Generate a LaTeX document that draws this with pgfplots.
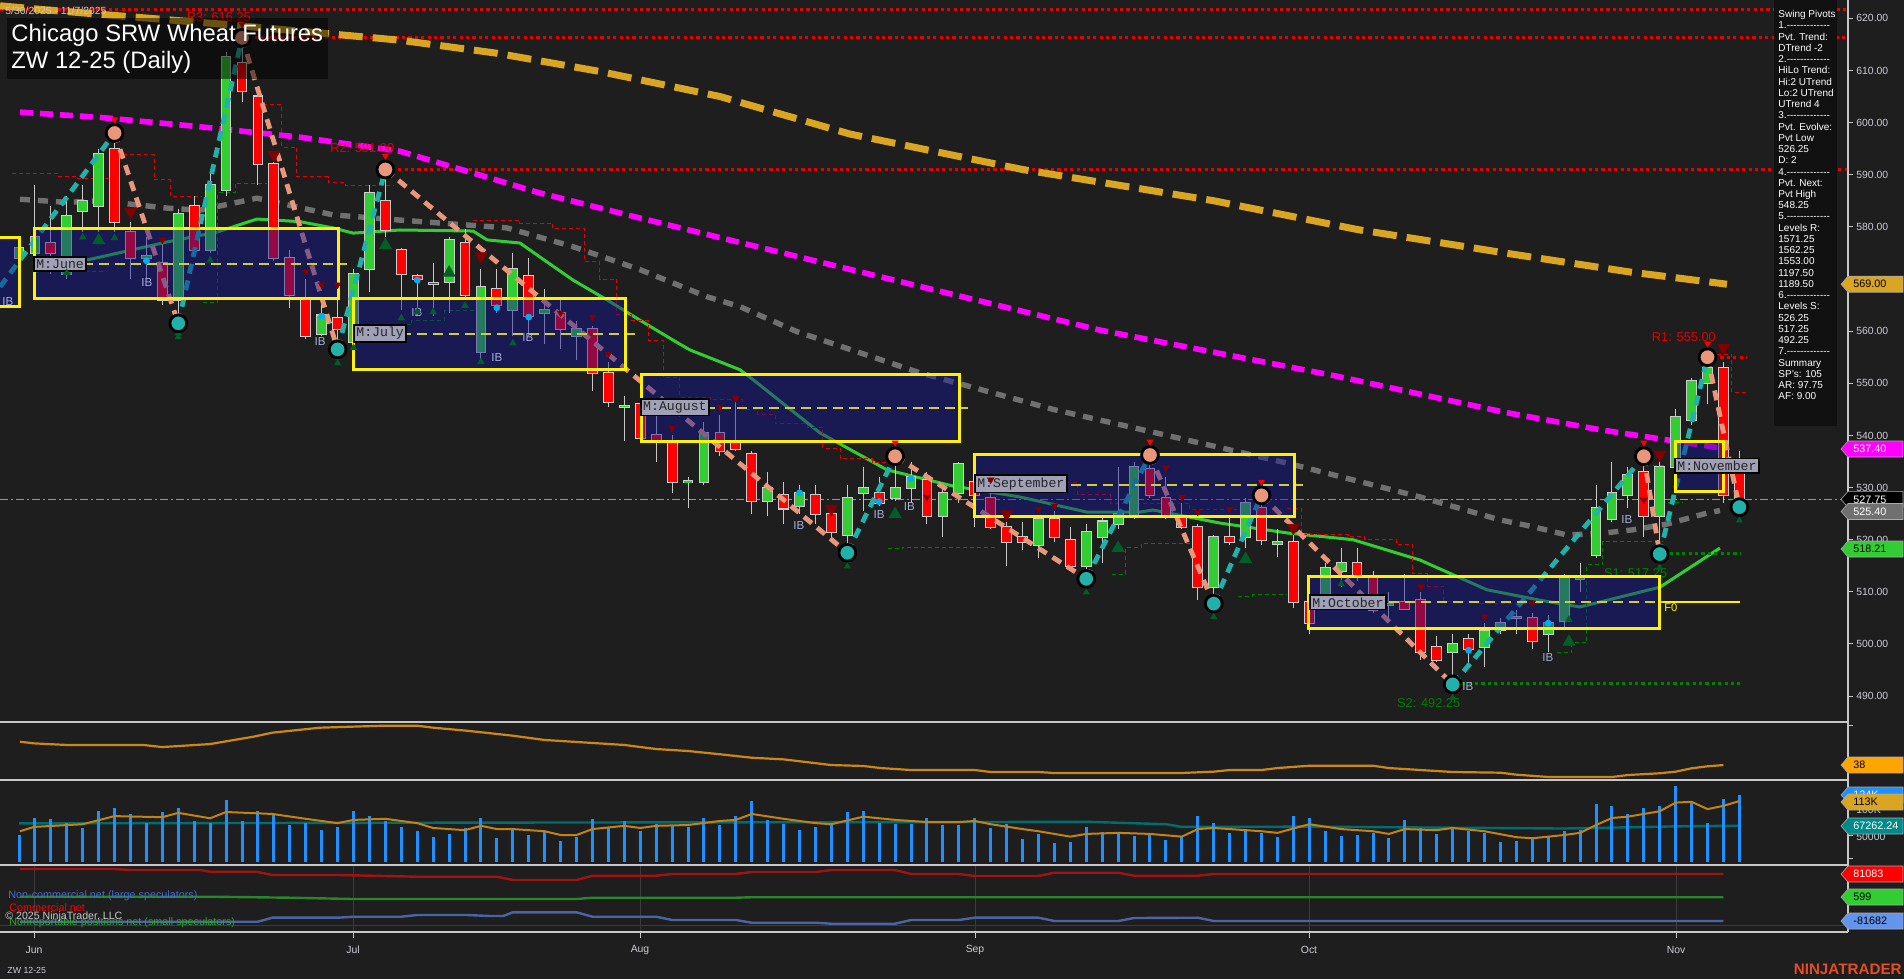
\documentclass[border=0pt]{standalone}
\usepackage{fontspec}
\setmainfont{Liberation Sans}
\newfontfamily\monofont{Liberation Mono}
\usepackage{pgfplots}
\usepackage{pgfplotstable}
\pgfplotsset{compat=1.18}

\definecolor{bg}{RGB}{30,30,30}
\definecolor{upc}{RGB}{50,205,50}
\definecolor{dnc}{RGB}{255,0,0}
\definecolor{wick}{RGB}{200,200,200}
\definecolor{outl}{RGB}{205,205,205}
\definecolor{ma200}{RGB}{218,165,32}
\definecolor{ma100}{RGB}{255,0,255}
\definecolor{ma50}{RGB}{112,112,112}
\definecolor{ma20}{RGB}{50,205,50}
\definecolor{swdn}{RGB}{233,150,122}
\definecolor{swup}{RGB}{32,178,170}
\definecolor{boxfill}{RGB}{20,20,150}
\definecolor{midl}{RGB}{205,205,60}
\definecolor{lvlred}{RGB}{230,0,0}
\definecolor{lvlgrn}{RGB}{0,128,0}
\definecolor{ibc}{RGB}{165,175,220}
\definecolor{vol}{RGB}{30,144,255}
\definecolor{volavg}{RGB}{195,130,20}
\definecolor{oi}{RGB}{0,110,110}
\definecolor{adx}{RGB}{205,135,20}
\definecolor{cotred}{RGB}{165,18,18}
\definecolor{cotgrn}{RGB}{40,135,40}
\definecolor{cotblue}{RGB}{75,100,165}
\definecolor{dkgrn}{RGB}{0,95,40}
\definecolor{dkred}{RGB}{130,0,0}
\definecolor{sepc}{RGB}{200,200,200}
\definecolor{gridc}{RGB}{60,60,60}
\definecolor{axtext}{RGB}{205,205,215}
\definecolor{lblfill}{RGB}{160,160,182}
\definecolor{tagbd}{RGB}{170,170,170}
\definecolor{lastc}{RGB}{150,150,150}
\definecolor{ncblue}{RGB}{70,105,215}
\definecolor{nrgreen}{RGB}{45,165,45}
\definecolor{cfblue}{RGB}{100,149,237}
\definecolor{oitag}{RGB}{0,139,139}
\definecolor{adxtag}{RGB}{255,165,0}
\definecolor{ntred}{RGB}{228,78,36}
\definecolor{pivbg}{RGB}{17,17,17}
\definecolor{datec}{RGB}{200,200,200}

\newcommand{\dsh}{-{}-{}-{}-{}-{}-{}-{}-{}-{}-{}-{}-{}-}
\newcommand{\ptag}[4]{%
  \filldraw[fill=#2, draw=tagbd, line width=0.3pt] (1841,#1) -- (1848,#1-8) -- (1903,#1-8) -- (1903,#1+8) -- (1848,#1+8) -- cycle;
  \node[anchor=west, text=#3, font=\fontsize{5.4}{6}\selectfont, inner sep=0pt] at (1853,#1) {#4};}

% daily bars: index, open, high, low, close, volume (thousands)
\pgfplotstableread{
i o h l c v
1 574 578 567 576 50
2 575 588 571 578 81.5
3 577 584 571 575 79.6
4 571 586 570 582 72
5 583 588 579 585 63
6 584 595 579 594 94
7 595 598 579 581 100
8 579 581 570 574 89
9 574 578 570 574.5 72
10 573 577 565 566 93
11 566 583.5 561.5 582.5 100
12 584 586 575 575.5 76
13 575.5 591 575 588 72
14 587 613.5 586 612.5 115
15 611.5 616.25 604 606 76
16 605 605.5 588 592 94
17 592 592.5 573.5 574 89
18 574 575.5 564.5 567 68.5
19 566 570 558.5 559 72
20 559.5 565 559 563 59
21 562.5 566 556.5 560.5 65
22 558 572 557 571 94
23 572 588 567.5 586.5 85
24 585 591 578 579.5 76
25 575.5 576 564 571 65
26 570.5 571 563 570 57
27 569.3 573 563 569 46
28 569.5 578 563.5 577.5 52
29 577 579.5 566.5 567 63
30 556 572 554 568.5 81.5
31 568 572 563.5 565 45
32 564 575 559 572 62
33 570.5 574 559 563 50
34 563.5 568 557.5 564 57
35 563.5 566 556.5 560.5 39
36 559 562 554.5 560.5 47
37 560.5 561 548.5 552 80
38 552 554 545.5 546.5 64
39 545.5 547.5 539 545.7 76
40 546 547 538.5 539.5 57
41 540 545.5 535 539 70
42 539 540 529 531 67
43 531 532 526 531.2 65
44 531 542.5 530.5 540.5 81.5
45 540.5 544 536 537 68.5
46 539 546.5 537 537.5 85
47 536.5 537 525 527.5 113
48 527.5 533 524.5 530 78
49 528.5 531 523 526 70
50 526.5 530.5 525 529 59
51 528.5 530.5 523 525 65
52 525 526 520 521.5 70
53 521 530.5 517.5 528 92.6
54 529 534 525.5 530 94
55 529 532 526.5 527 73
56 528 536 527.5 530 70
57 530 535 527 532 70
58 531.5 533 523 524.5 81.5
59 524.5 530 520.5 529 68.5
60 529 535 527 534.5 68.5
61 531 533 522.5 528.5 81.5
62 528 532 522 522.5 63.5
63 522.5 523.5 515 519.5 70
64 520.5 523.5 518 519.5 42.6
65 519 524.5 516.5 524 52
66 524 525.5 519.5 520.5 35
67 520 522.5 514.5 515 37
68 515 523 512.5 521.5 65
69 520.5 524.5 515.5 523.5 55
70 523 534 522 525 55
71 524.5 535 524 534 48
72 533.5 536.25 528 528.5 50.6
73 528 532 524 524.5 40.7
74 524.5 527 522 522.5 47
75 522.5 523 508.5 511 85
76 511 521 507.75 520.5 72
77 520.5 524.5 519 519.5 53.7
78 520.5 528 518.5 527 57
79 526 528.5 519 520 53.7
80 519.2 522 516.7 519.6 46
81 519.5 522.5 507 508 85
82 508 510 502 504 81.5
83 509 515.5 507 514.5 57
84 514 518.5 511 515.5 48
85 515.5 518.5 512 513 50
86 513 514 506 506.5 53.7
87 507.5 510 505 507.7 44
88 508 513.5 506.5 506.7 78
89 508.5 510 497 498.5 63
90 499.5 501.5 496.5 497 52
91 498.5 502 492.25 500 65
92 501 502 495.5 499 57
93 499.5 504 495.5 502.5 53.7
94 502.7 505 502 504 37
95 505 506.5 502 505.2 39
96 505 506 499 500.5 42.6
97 502 505.5 498.5 504 46
98 504.5 513.5 503 513 57
99 512.5 515.5 510 513 59
100 517 530.5 516.5 526 107
101 524 535 523.5 529 104
102 528.5 534 526 532.5 89
103 533 536 520.5 524.5 100
104 524.5 536 517.25 534 104
105 534 545 533.5 543.5 141
106 543 551 542 550.5 113
107 550 555 546 553 72
108 553 554 527 528.5 117
109 534 537 526.25 527.75 124
}\ohlc

% trailing stop steps (resistance)
\pgfplotstableread{
x y
0.56 590.3
3.45 589.7
4.52 589.3
7.15 593.8
9.48 589
10.48 585.8
12.49 585.8
nan nan
16.32 603.4
17.51 595.3
18.45 589.6
20.40 588.6
21.47 588
24.48 588
nan nan
29.50 581.3
32.45 580.7
34.52 579.6
36.53 573.3
37.47 570
38.54 563.1
39.48 562
40.49 558.3
41.43 551.1
42.49 547.3
44.38 546.8
46.45 545
47.39 544
48.46 542.2
50.47 541.6
51.47 537.5
52.54 535.5
54.55 534.9
55.49 534.9
nan nan
61.01 531
67.48 528.6
69.49 527
74.51 525.7
77.46 525.7
nan nan
80.60 525.9
81.54 521
84.43 520.6
85.49 520
87.50 519
88.51 513.5
89.45 511.1
90.45 508.2
92.53 507.8
96.48 507.8
nan nan
103.57 534.3
104.45 534.3
nan nan
107.59 555.6
108.53 548.3
109.54 548.3
}\rstep

% trailing stop steps (support)
\pgfplotstableread{
x y
5.14 571.4
6.52 571.4
nan nan
12.55 565.4
13.49 586.5
14.56 588.4
16.57 588.4
nan nan
24.48 561.2
25.67 562.1
27.74 563.9
29.94 563.9
nan nan
55.55 518.3
56.49 518.6
62.46 518.6
nan nan
69.61 513.4
70.49 518.6
71.49 519.3
74.51 519.3
nan nan
77.52 509.2
78.46 509.4
80.60 509.4
nan nan
97.55 498.3
98.49 500.2
99.43 515.2
100.43 519.7
104.2 519.7
nan nan
104.51 527.2
105.45 527.2
}\gstep

\begin{document}
\begin{tikzpicture}
\fill[bg] (0,0) rectangle (952pt,-489.5pt);

\begin{scope}[x=0.5pt,y=-0.5pt]
  \draw[gridc, line width=0.5pt] (34,865)--(34,932) (353,865)--(353,932) (640,865)--(640,932)
     (975,865)--(975,932) (1309,865)--(1309,932) (1676,865)--(1676,932);
  \draw[gridc, line width=0.5pt] (0,925)--(1848,925);
\end{scope}

\pgfplotsset{panel/.style={scale only axis, width=924pt, xmin=-0.193, xmax=115.82,
  hide axis, anchor=north west, clip=true},
  swu/.style={swup, line width=2.4pt, dash pattern=on 5pt off 3.5pt},
  swd/.style={swdn, line width=2.4pt, dash pattern=on 5pt off 3.5pt},
  ebar/.style 2 args={draw=none, mark=none, error bars/.cd, y dir=both, y explicit, error mark=none,
    error bar style={draw=#1, line width=#2, solid}}}
\tikzset{mlab/.style={anchor=west, fill=lblfill, draw=black, line width=0.9pt, inner sep=1.2pt,
      text=black!85, font=\monofont\fontsize{6.6}{7}\selectfont},
  iblab/.style={text=ibc, font=\fontsize{5.8}{6}\selectfont, inner sep=0pt}}

% ---------------- price panel ----------------
\begin{axis}[panel, at={(0pt,0pt)}, height=361pt, ymin=485.04, ymax=623.51]
  % resistance levels
  \addplot[lvlred, line width=1.6pt, dash pattern=on 1.6pt off 1.6pt] coordinates {(-0.19,621.7) (115.82,621.7)};
  \addplot[lvlred, line width=1.6pt, dash pattern=on 1.6pt off 1.6pt] coordinates {(15,616.25) (115.82,616.25)};
  \addplot[lvlred, line width=1.6pt, dash pattern=on 1.6pt off 1.6pt] coordinates {(24,591) (115.82,591)};
  \node[anchor=west, text=lvlred, font=\fontsize{6.4}{7}\selectfont] at (11.1,620.25) {R3: 616.25};
  % last price
  \addplot[lastc, line width=0.6pt, dash pattern=on 4pt off 1.5pt on 1pt off 1.5pt] coordinates {(-0.19,527.75) (115.82,527.75)};
  % moving averages
  \addplot[ma200, line width=3.5pt, dash pattern=on 12pt off 5pt] coordinates {
    (-0.19,622.4) (2.76,621.6) (14.43,618.7) (24.92,615.8) (31,613.3) (37.47,609.8) (45,605) (53.17,597.8)
    (64,591) (76.02,585) (85,579.5) (95.10,574.6) (102,571.4) (108.22,569.0)};
  \addplot[ma100, line width=2.8pt, dash pattern=on 6.5pt off 3.5pt] coordinates {
    (1.06,602) (6.08,601) (12.36,599.2) (18.64,597.2) (24.92,594.5) (33.70,586.5) (39.98,581.7)
    (46.26,577) (56.99,569) (68.86,560.2) (83.67,551.4) (94.16,544.5) (100.24,541.1) (108.22,537.4)};
  \addplot[ma50, line width=2.7pt, dash pattern=on 5pt off 4pt] coordinates {
    (1.06,585.3) (4.01,584.7) (6.09,585) (10.29,583.6) (12.36,583.2) (15.94,585.5) (20.71,582.3)
    (24.92,581.3) (31.63,579.8) (35.78,576.2) (39.98,571.8) (44.19,566.6) (46.26,564.7) (49.84,559.9)
    (57.56,552) (65.91,545) (71.37,541.2) (80.60,534.7) (88.95,528.2) (93.97,523.8) (96.04,522.5)
    (98.17,520.9) (100.25,521.2) (102.32,521.9) (104.45,523.0) (106.96,525.1) (107.78,525.6)};
  \addplot[ma20, line width=1.5pt] coordinates {
    (1.88,571.4) (6.09,574.2) (10.29,577.1) (13.43,579) (15.94,581.5) (18.64,581) (20.71,579.8)
    (21.97,578.8) (24.92,579.4) (29.50,579.2) (30.38,577.5) (32.45,576.9) (33.71,574.2) (35.78,569.8)
    (37.91,566) (39.98,562.1) (42.05,558.3) (43.12,556.4) (46.26,552.6) (47.08,550.7) (51.28,540.5)
    (55.49,533.4) (59.63,530.3) (63.84,528.2) (68.04,525.3) (71.37,525.3) (72.19,525.7) (76.39,523.2)
    (80.60,521.3) (84.74,520) (88.95,516.1) (93.15,510.4) (96.48,508.4) (98.99,507.1) (101.50,509)
    (104.01,510.9) (107.78,518.4)};
  % trailing steps
  \addplot[lvlred, line width=0.5pt, dash pattern=on 2pt off 1.5pt, const plot mark left, unbounded coords=jump] table[x=x,y=y] {\rstep};
  \addplot[lvlgrn, line width=0.5pt, dash pattern=on 2pt off 1.5pt, const plot mark left, unbounded coords=jump] table[x=x,y=y] {\gstep};
  % candles: wicks, outlines, bodies
  \addplot[ebar={wick}{0.5pt}]
    table[x=i, y expr={(\thisrow{h}+\thisrow{l})/2}, y error expr={(\thisrow{h}-\thisrow{l})/2}] {\ohlc};
  \addplot[ebar={outl}{5.4pt}]
    table[x=i, y expr={(\thisrow{o}+\thisrow{c})/2}, y error expr={abs(\thisrow{o}-\thisrow{c})/2+0.2}] {\ohlc};
  \addplot[ebar={upc}{4.4pt}]
    table[x=i, y expr={\thisrow{c}>=\thisrow{o} ? (\thisrow{o}+\thisrow{c})/2 : nan},
          y error expr={max(abs(\thisrow{o}-\thisrow{c})/2,0.08)}] {\ohlc};
  \addplot[ebar={dnc}{4.4pt}]
    table[x=i, y expr={\thisrow{c}<\thisrow{o} ? (\thisrow{o}+\thisrow{c})/2 : nan},
          y error expr={max(abs(\thisrow{o}-\thisrow{c})/2,0.08)}] {\ohlc};
  % signal markers
  \addplot[only marks, mark=triangle*, mark size=1.8pt, color=dkgrn] coordinates {
    (4,571.2) (5,578) (7,577.9) (11,559.6) (13,573.6) (21,555) (22,556.8) (25,562.5) (26,563.7)
    (27,563.7) (29,564.9) (30,554.1) (32,557.7) (53,516.1) (68,512) (76,507) (84,511.5) (98.3,504.7)};
  \addplot[only marks, mark=triangle*, mark size=3.4pt, color=dkgrn] coordinates {
    (6,577.4) (24,576.5) (28,571.2) (56,524.9) (70,518.4) (78,516.3) (98.3,500.4)};
  \addplot[only marks, mark=triangle*, mark size=1.8pt, color=dkred, mark options={rotate=180}] coordinates {
    (10,577.5) (19,571.4) (20,568.9) (21,568.9) (35,563.5) (37,562.7) (38,555.6) (42,541.4) (45,545.4)
    (46,547.1) (58,528.2) (62,531.5) (65,525.9) (66,526.5) (73,533.8) (74,528.2) (75,525.3) (77,525.9)
    (89,511) (93,505.2) (96,507.9) (103,527.6)};
  \addplot[only marks, mark=triangle*, mark size=3.4pt, color=dkred, mark options={rotate=180}] coordinates {
    (8,582.9) (17,593.8) (30,574.4) (52,525.9) (63,524.9) (81,522.3) (104,536.3) (108,556.8)};
  \addplot[only marks, mark=*, mark size=1.5pt, color=cyan] coordinates {
    (9,573.5) (20,562.9) (26,569.8) (31,564.5) (33,562.7) (50,529) (55,527.3) (57,531.7) (92,498.8) (97,504)};
  % swing lines
  \addplot[swu] coordinates {(-0.19,568.5) (7,598)};
  \addplot[swd] coordinates {(7,598) (11,561.5)};
  \addplot[swu] coordinates {(11,561.5) (15,616.25)};
  \addplot[swd] coordinates {(15,616.25) (21,556.5)};
  \addplot[swu] coordinates {(21,556.5) (24,591)};
  \addplot[swd] coordinates {(24,591) (53,517.5)};
  \addplot[swu] coordinates {(53,517.5) (56,536)};
  \addplot[swd] coordinates {(56,536) (68,512.5)};
  \addplot[swu] coordinates {(68,512.5) (72,536.25)};
  \addplot[swd] coordinates {(72,536.25) (76,507.75)};
  \addplot[swu] coordinates {(76,507.75) (79,528.5)};
  \addplot[swd] coordinates {(79,528.5) (91,492.25)};
  \addplot[swu] coordinates {(91,492.25) (103,536)};
  \addplot[swd] coordinates {(103,536) (104,517.25)};
  \addplot[swu] coordinates {(104,517.25) (107,555)};
  \addplot[swd] coordinates {(107,555) (109,526.25)};
  % pivots
  \addplot[only marks, mark=*, mark size=4.2pt, mark options={fill=swdn, draw=black, line width=1.4pt}] coordinates {
    (7,598) (15,616.25) (24,591) (56,536) (72,536.25) (79,528.5) (103,536) (107,555)};
  \addplot[only marks, mark=*, mark size=4.2pt, mark options={fill=swup, draw=black, line width=1.4pt}] coordinates {
    (11,561.5) (21,556.5) (53,517.5) (68,512.5) (76,507.75) (91,492.25) (104,517.25) (109,526.25)};
  \addplot[only marks, mark=triangle*, mark size=1.6pt, color=red, mark options={rotate=180}] coordinates {
    (7,600.6) (15,618.8) (24,593.6) (56,538.6) (72,538.8) (79,531.1) (103,538.6) (107,557.6)};
  \addplot[only marks, mark=triangle*, mark size=1.6pt, color=dkgrn] coordinates {
    (11,558.9) (21,553.9) (53,514.9) (68,509.9) (76,505.2) (91,489.7) (104,514.7) (109,523.7)};
  % support label under the boxes
  \node[anchor=west, text=lvlgrn, font=\fontsize{6.4}{7}\selectfont] at (100.06,513.6) {S1: 517.25};
  % monthly boxes
  \fill[boxfill, fill opacity=0.45] (-0.19,564.7) rectangle (1.06,578.0);
  \fill[boxfill, fill opacity=0.45] (2.00,566.3) rectangle (21.03,579.6);
  \fill[boxfill, fill opacity=0.45] (21.97,552.7) rectangle (39.10,566.2);
  \fill[boxfill, fill opacity=0.45] (40.05,538.8) rectangle (60.01,551.6);
  \fill[boxfill, fill opacity=0.45] (61.01,524.5) rectangle (81.04,536.4);
  \fill[boxfill, fill opacity=0.45] (81.98,503.0) rectangle (104.01,513.0);
  \fill[boxfill, fill opacity=0.45] (105.02,529.2) rectangle (108.03,538.8);
  \draw[midl, line width=1pt, dash pattern=on 5pt off 3pt]
    (2.00,572.9) -- (21.6,572.9) (21.97,559.5) -- (39.7,559.5) (40.05,545.2) -- (60.6,545.2)
    (61.01,530.5) -- (81.6,530.5) (81.98,508.0) -- (104.6,508.0) (105.02,534.0) -- (108.6,534.0);
  \draw[yellow, line width=1.5pt] (-0.5,564.7) rectangle (1.06,578.0);
  \draw[yellow, line width=1.5pt] (2.00,566.3) rectangle (21.03,579.6);
  \draw[yellow, line width=1.5pt] (21.97,552.7) rectangle (39.10,566.2);
  \draw[yellow, line width=1.5pt] (40.05,538.8) rectangle (60.01,551.6);
  \draw[yellow, line width=1.5pt] (61.01,524.5) rectangle (81.04,536.4);
  \draw[yellow, line width=1.5pt] (81.98,503.0) rectangle (104.01,513.0);
  \draw[yellow, line width=1.5pt] (105.02,529.2) rectangle (108.03,538.8);
  % short levels
  \addplot[lvlred, line width=1.6pt, dash pattern=on 1.6pt off 1.6pt] coordinates {(107,555) (109.5,555)};
  \addplot[lvlgrn, line width=1.6pt, dash pattern=on 1.6pt off 1.6pt] coordinates {(91.6,492.4) (109.03,492.4)};
  \addplot[lvlgrn, line width=1.6pt, dash pattern=on 1.6pt off 1.6pt] coordinates {(104.2,517.4) (109.03,517.4)};
  \addplot[yellow, line width=1pt] coordinates {(104.2,508.1) (109.03,508.1)};
  \node[anchor=west, text=lvlred, font=\fontsize{6.4}{7}\selectfont] at (20.1,595.1) {R2: 591.00};
  \node[anchor=west, text=lvlred, font=\fontsize{6.4}{7}\selectfont] at (103.07,558.9) {R1: 555.00};
  \node[anchor=west, text=lvlgrn, font=\fontsize{6.4}{7}\selectfont] at (87.07,488.7) {S2: 492.25};
  \node[anchor=west, text=yellow, font=\fontsize{5.6}{6}\selectfont, inner sep=0.5pt] at (104.2,506.9) {F0};
  % IB tags
  \node[iblab] at (9.03,569.4) {IB};
  \node[iblab] at (19.9,558.0) {IB};
  \node[iblab] at (0.3,565.6) {IB};
  \node[iblab] at (25.98,563.5) {IB};
  \node[iblab] at (31.0,554.9) {IB};
  \node[iblab] at (32.95,558.7) {IB};
  \node[iblab] at (49.96,522.8) {IB};
  \node[iblab] at (55.0,524.9) {IB};
  \node[iblab] at (56.9,526.3) {IB};
  \node[iblab] at (91.96,491.8) {IB};
  \node[iblab] at (101.94,523.8) {IB};
  \node[iblab] at (96.98,497.5) {IB};
  % month labels
  \node[mlab] at (1.88,572.9) {M:June};
  \node[mlab] at (21.97,559.6) {M:July};
  \node[mlab] at (39.98,545.4) {M:August};
  \node[mlab] at (60.95,530.7) {M:September};
  \node[mlab] at (81.98,508.0) {M:October};
  \node[mlab] at (104.9,534.2) {M:November};
\end{axis}

% ---------------- oscillator panel ----------------
\begin{axis}[panel, at={(0pt,-361pt)}, height=29pt, ymin=25, ymax=75]
  \addplot[adx, line width=1.1pt] coordinates {
    (1.06,58.0) (1.94,56.6) (4.0,55.2) (8.8,55.2) (10.0,53.4) (13.0,56.0) (15.7,62.3) (16.9,65.8)
    (19.9,70.1) (23.85,71.8) (26.0,71.8) (27.0,70.1) (29.1,67.5) (31.2,64.4) (32.0,63.2) (34.0,59.5)
    (36.0,57.8) (39.0,55.2) (41.0,51.7) (43.0,50.0) (45.0,47.2) (47.0,44.2) (49.0,42.8) (52.0,37.9)
    (54.0,37.1) (55.1,35.3) (57.0,33.6) (61.0,33.6) (62.0,31.9) (65.0,31.9) (66.0,31.0) (73.9,31.0)
    (76.0,32.2) (77.0,33.6) (79.0,33.6) (80.0,35.3) (82.0,37.3) (86.0,37.3) (87.0,35.3) (89.0,33.6)
    (91.0,31.9) (94.0,31.3) (95.0,29.6) (97.0,27.6) (101.0,27.6) (102.0,29.3) (104.0,30.8) (105.0,32.2)
    (106.0,35.1) (107.0,36.8) (108.0,37.9)};
\end{axis}

% ---------------- volume panel ----------------
\begin{axis}[panel, at={(0pt,-390pt)}, height=42.5pt, ymin=-5.556, ymax=151.86]
  \addplot[oi, line width=1.2pt] coordinates {
    (1,71.5) (31,73) (60,74) (68,74.5) (73,70) (74,65) (82,65.5) (98,62) (105,66) (109,67.26)};
  \addplot[ycomb, vol, line width=1.5pt] table[x=i, y=v] {\ohlc};
  \addplot[volavg, line width=1pt] coordinates {
    (1.06,57) (1.94,65) (5,70) (7,85) (10,83) (11,91) (13,81) (14,92.6) (16.9,89) (19,80) (21,72)
    (22,78) (24,80) (26,72) (27,63) (29,59) (30,67) (31,61) (32,61) (34,57) (35,50) (36,50) (37,61)
    (39,67) (40,63) (41,67) (43,68.5) (45,76) (46,78) (47,89) (49,80) (51,72) (52,70) (54,84) (56,78)
    (58,74) (60,74) (61,76) (62,70) (64,61) (65,57) (67,47) (68,52) (70,54) (72,52) (74,47) (75,61)
    (76,63) (79,57) (80,54) (82,70) (84,61) (86,57) (87,52) (88,61) (90,59) (91,63) (93,57) (95,46)
    (96,44) (98,50) (99,54) (100,68.5) (101,81.5) (102,84) (104,94) (105,110) (106,111.5) (107,98)
    (108,104) (109,113)};
\end{axis}

% ---------------- positioning panel ----------------
\begin{axis}[panel, at={(0pt,-432.5pt)}, height=33.5pt, ymin=-119.77, ymax=112.25]
  \addplot[cotred, line width=1.2pt] coordinates {
    (1.06,98.4) (7,98.4) (8,94.9) (12.4,94.9) (13,89.0) (15.9,89.0) (16.9,77.6) (21.1,77.6) (26,71.7)
    (31,71.7) (32,60.3) (36,60.3) (37,75.2) (41,75.2) (42,81.1) (46,81.1) (47,88.0) (51,88.0) (52,94.9)
    (56,94.9) (57,81.1) (60,81.1) (61,74.2) (65,74.2) (66,85.6) (70,85.6) (71,75.2) (75,75.2) (76,81.08)
    (108,81.08)};
  \addplot[cotgrn, line width=1.2pt] coordinates {
    (1.06,2.5) (13,2.5) (18,-1.0) (22,-5.5) (36,-5.5) (37,-1.0) (46,-1.0) (47,0.6) (108,0.6)};
  \addplot[cotblue, line width=1.2pt] coordinates {
    (1.06,-84.1) (16,-84.1) (16.9,-70.2) (21,-70.2) (22,-66.8) (25,-66.8) (26,-60.9) (29.1,-60.9)
    (30.6,-64.4) (31.4,-64.4) (32,-51.6) (36,-51.6) (37,-66.8) (41,-66.8) (42,-78.2) (46,-78.2)
    (47,-87.6) (51,-87.6) (52,-91.0) (56,-91.0) (57,-78.2) (60,-78.2) (61,-70.2) (65,-70.2) (66,-81.7)
    (70,-81.7) (71,-71.3) (75,-70.2) (76,-81.68) (108,-81.68)};
\end{axis}

% ---------------- frame, text and tags ----------------
\begin{scope}[x=0.5pt,y=-0.5pt]
  \draw[sepc, line width=0.7pt] (0,722)--(1848,722) (0,780)--(1848,780) (0,865)--(1848,865) (0,932)--(1848,932);
  \draw[sepc, line width=0.7pt] (1848,0)--(1848,932);
  \foreach \x/\m in {34/Jun,353/Jul,640/Aug,975/Sep,1309/Oct,1676/Nov}
    {\draw[sepc, line width=0.5pt] (\x,932)--(\x,938);
     \node[text=axtext, font=\fontsize{5.2}{6}\selectfont] at (\x,950) {\m};}
  \foreach \p in {490,500,...,560,580,590,...,620}
    {\pgfmathsetmacro\yy{18.3+(620-\p)*5.214}
     \draw[sepc, line width=0.5pt] (1848,\yy)--(1853,\yy);
     \node[anchor=west, text=axtext, font=\fontsize{5.2}{6}\selectfont, inner sep=0pt] at (1856,\yy) {\p.00};}
  \draw[sepc, line width=0.5pt] (1848,278.9)--(1853,278.9);
  \draw[sepc, line width=0.5pt] (1848,808)--(1853,808) (1848,835)--(1853,835) (1848,725)--(1853,725) (1848,858)--(1853,858);
  \node[anchor=west, text=axtext, font=\fontsize{5.2}{6}\selectfont, inner sep=0pt] at (1856,810) {100K};
  \node[anchor=west, text=axtext, font=\fontsize{5.2}{6}\selectfont, inner sep=0pt] at (1856,837) {50000};
  % price tags
  \ptag{284.2}{ma200}{black}{569.00}
  \ptag{449.0}{ma100}{white}{537.40}
  \ptag{499.3}{black}{white}{527.75}
  \ptag{511.5}{ma50}{white}{525.40}
  \ptag{549.0}{upc}{black}{518.21}
  \ptag{765}{adxtag}{black}{38}
  \ptag{795}{vol}{white}{124K}
  \ptag{802}{ma200}{black}{113K}
  \ptag{826}{oitag}{white}{67262.24}
  \ptag{874}{red}{white}{81083}
  \ptag{897}{upc}{black}{599}
  \ptag{921}{cfblue}{black}{-81682}
  % title
  \node[anchor=west, text=datec, font=\fontsize{5.2}{6}\selectfont, inner sep=0pt] at (5,11) {5/30/2025 - 11/7/2025};
  \fill[black, fill opacity=0.5] (7,18) rectangle (328,79);
  \node[anchor=west, text=white, font=\fontsize{11.9}{13}\selectfont, inner sep=0pt] at (11,35) {Chicago SRW Wheat Futures};
  \node[anchor=west, text=white, font=\fontsize{11.9}{13}\selectfont, inner sep=0pt] at (11,62) {ZW 12-25 (Daily)};
  % swing pivots panel
  \fill[pivbg] (1774,0) rectangle (1837,426);
  \node[anchor=north west, text=white, align=left, inner sep=0pt,
        font=\fontsize{5}{5.62}\selectfont] at (1778,10) {%
    Swing Pivots\\1.\dsh\\Pvt. Trend:\\DTrend -2\\2.\dsh\\HiLo Trend:\\Hi:2 UTrend\\Lo:2 UTrend\\UTrend 4\\%
    3.\dsh\\Pvt. Evolve:\\Pvt Low\\526.25\\D: 2\\4.\dsh\\Pvt. Next:\\Pvt High\\548.25\\5.\dsh\\%
    Levels R:\\1571.25\\1562.25\\1553.00\\1197.50\\1189.50\\6.\dsh\\Levels S:\\526.25\\517.25\\492.25\\%
    7.\dsh\\Summary\\SP's: 105\\AR: 97.75\\AF: 9.00};
  % lower legend
  \node[anchor=west, text=ncblue, font=\fontsize{5.4}{6}\selectfont, inner sep=0pt] at (8,896) {Non-commercial net (large speculators)};
  \node[anchor=west, text=red, font=\fontsize{5.4}{6}\selectfont, inner sep=0pt] at (9,908) {Commercial net};
  \node[anchor=west, text=nrgreen, font=\fontsize{5.4}{6}\selectfont, inner sep=0pt] at (9,922.5) {Nonreportable positions net (small speculators)};
  \node[anchor=west, text=datec, font=\fontsize{5.3}{6}\selectfont, inner sep=0pt] at (5,917) {© 2025 NinjaTrader, LLC};
  \node[anchor=west, text=axtext, font=\fontsize{4.4}{5}\selectfont, inner sep=0pt] at (7,970) {ZW 12-25};
  \node[anchor=east, text=ntred, font=\bfseries\fontsize{7.6}{8}\selectfont, inner sep=0pt] at (1902,969) {NINJATRADER};
\end{scope}

\pgfresetboundingbox
\useasboundingbox (0,0) rectangle (952pt,-489.5pt);
\end{tikzpicture}
\end{document}
